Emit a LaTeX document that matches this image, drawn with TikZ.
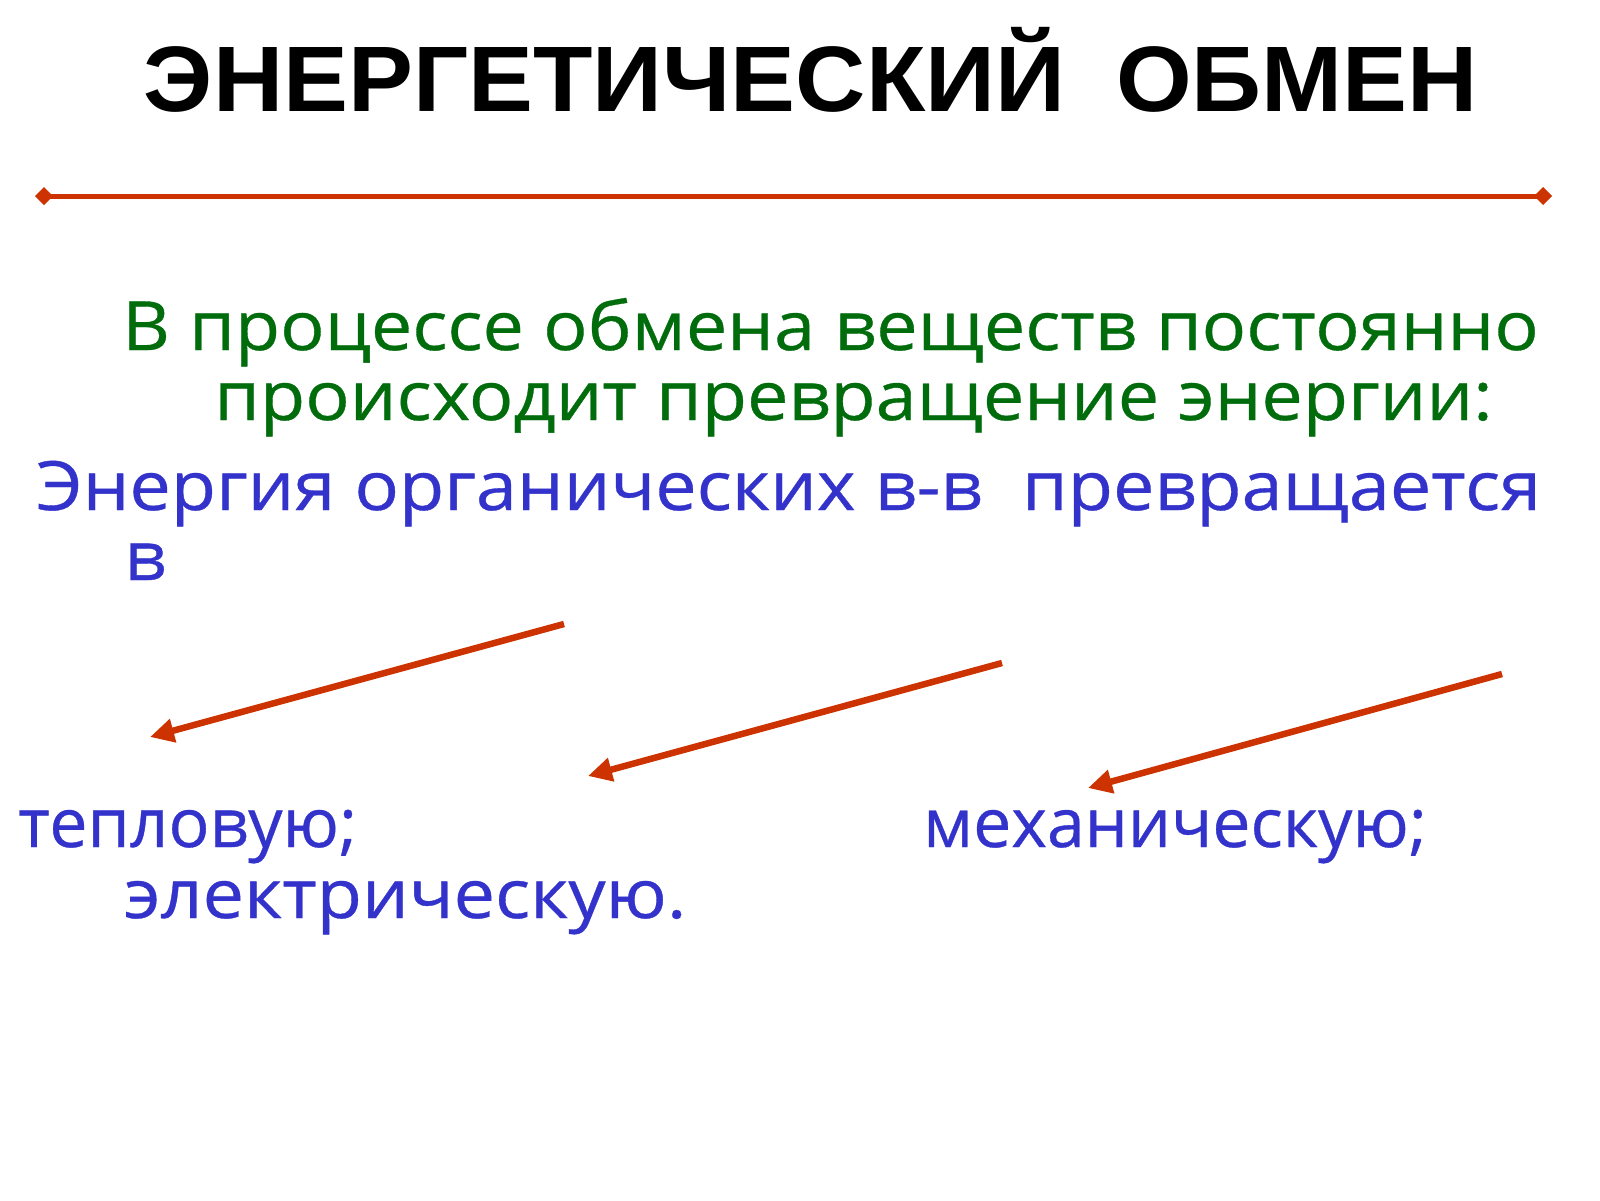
\documentclass[tikz,border=0pt]{standalone}
\usepackage{fontspec}
\setmainfont{Open Sans}[FakeBold=0.5]
\newfontfamily\titlefont[FakeStretch=1.046]{Liberation Sans}
\newfontfamily\widefont[FakeStretch=1.085,FakeBold=0.5]{Open Sans}
\newfontfamily\normfont[FakeBold=0.5]{Open Sans}
\usetikzlibrary{arrows.meta}
\definecolor{ttlred}{RGB}{204,51,0}
\definecolor{txtgreen}{RGB}{0,108,12}
\definecolor{txtblue}{RGB}{51,51,204}
\tikzset{
  txt/.style={anchor=base west, inner sep=0pt, font=\widefont\fontsize{68}{70}\selectfont},
  txtnarrow/.style={anchor=base west, inner sep=0pt, font=\normfont\fontsize{68}{70}\selectfont},
  greentxt/.style={txt, text=txtgreen},
  bluetxt/.style={txt, text=txtblue},
  bluenarrow/.style={txtnarrow, text=txtblue},
  redarrow/.style={draw=ttlred, line width=6.5pt, -{Triangle[length=24pt,width=23pt]}},
  rule/.style={draw=ttlred, line width=5pt, {Diamond[length=18pt,width=18pt]}-{Diamond[length=18pt,width=18pt]}}
}
\begin{document}
\begin{tikzpicture}[x=1pt,y=-1pt]
\useasboundingbox (0,0) rectangle (1600,1200);
\fill[white] (0,0) rectangle (1600,1200);
\node[anchor=base, inner sep=0pt, font=\titlefont\bfseries\fontsize{93}{96}\selectfont] (title) at (811,111) {ЭНЕРГЕТИЧЕСКИЙ\hspace{0.55em}ОБМЕН};
\coordinate (ruleL) at (35,196);
\coordinate (ruleR) at (1552,196);
\draw[rule] (ruleL) -- (ruleR);
\node[greentxt] (g1) at (122,350) {В процессе обмена веществ постоянно};
\node[greentxt] (g2) at (214,420) {происходит превращение энергии:};
\node[bluetxt] (b1) at (36,510) {Энергия органических в-в\hspace{0.3em} превращается};
\node[bluetxt] (b2) at (124,580) {в};
\coordinate (a1s) at (564,624); \coordinate (a1e) at (150,737);
\coordinate (a2s) at (1002,663); \coordinate (a2e) at (588,776);
\coordinate (a3s) at (1502,674); \coordinate (a3e) at (1088,788);
\draw[redarrow] (a1s) -- (a1e);
\draw[redarrow] (a2s) -- (a2e);
\draw[redarrow] (a3s) -- (a3e);
\node[bluenarrow] (t1) at (18,847) {тепловую;};
\node[bluenarrow] (t2) at (923,847) {механическую;};
\node[bluetxt] (t3) at (124,918) {электрическую.};
\end{tikzpicture}
\end{document}
